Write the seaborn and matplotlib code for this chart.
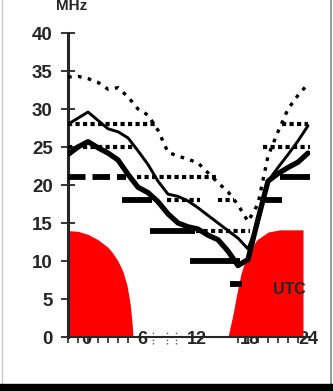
import numpy as np
import pandas as pd
import matplotlib
matplotlib.use("Agg")
import matplotlib.pyplot as plt
import seaborn as sns
from matplotlib.patches import Rectangle
from matplotlib.lines import Line2D

# ---------------- data ----------------
hours = list(range(25))
upper_decile = [34.2, 34.3, 34.0, 33.5, 32.6, 32.8, 31.6, 30.0, 29.2, 27.2, 24.3, 23.8,
                23.4, 22.9, 21.6, 20.3, 19.1, 17.4, 15.2, 17.5, 23.8, 27.0, 30.0, 31.8, 33.3]
median_upper = [28.0, 28.8, 29.6, 28.5, 27.4, 27.0, 26.2, 24.5, 22.7, 20.5, 18.8, 18.5,
                17.9, 17.0, 16.0, 15.0, 14.0, 13.0, 11.6, 15.0, 20.5, 22.3, 24.0, 25.8, 27.8]
median_lower = [24.0, 25.0, 25.7, 24.9, 24.2, 23.3, 21.4, 19.7, 19.0, 17.8, 16.2, 15.0,
                14.5, 14.2, 13.4, 12.8, 11.3, 9.4, 10.2, 15.5, 20.5, 21.5, 22.3, 23.0, 24.2]

sun_left_h = [0, 1, 2, 3, 4, 4.5, 5, 5.5, 5.9, 6.2, 6.4, 6.5]
sun_left_v = [14.0, 13.9, 13.5, 12.8, 11.8, 11.0, 10.0, 8.6, 6.8, 4.5, 2.0, 0.0]
sun_right_h = [16.0, 16.5, 16.9, 17.3, 17.7, 18.1, 18.9, 20.0, 21.2, 23.5]
sun_right_v = [0.0, 3.0, 5.8, 8.3, 10.0, 11.3, 12.8, 13.8, 14.1, 14.1]

thick_levels = [21, 18, 14, 10, 7, 18, 21]
thick_start = [0.0, 5.4, 8.2, 12.2, 16.2, 19.4, 21.2]
thick_end = [5.8, 8.4, 12.7, 17.2, 17.4, 21.4, 24.2]

dotted_levels = [28, 25, 21, 18, 18, 14, 25, 28]
dotted_start = [0.0, 0.0, 6.9, 9.9, 15.0, 12.8, 19.5, 21.4]
dotted_end = [9.0, 6.6, 14.8, 13.2, 16.6, 18.2, 24.2, 24.0]

ytick_values = [0, 5, 10, 15, 20, 25, 30, 35, 40]
xtick_labels = ["0", "6", "12", "18", "24"]
unit_label = "MHz"
time_label = "UTC"

# ---------------- style ----------------
sns.set_style("ticks")
plt.rcParams["font.family"] = ["Liberation Sans", "DejaVu Sans"]
plt.rcParams["font.weight"] = "bold"

W, H = 333, 391
fig = plt.figure(figsize=(W / 100, H / 100), dpi=100)
fig.patch.set_facecolor("white")
ax = fig.add_axes([68 / W, 54 / H, 242 / W, 304 / H])
ax.set_facecolor("white")

# red areas
ax.fill_between(sun_left_h, 0, sun_left_v, color="#ff0000", lw=0, zorder=1)
ax.fill_between(sun_right_h, 0, sun_right_v, color="#ff0000", lw=0, zorder=1)

df = pd.DataFrame({"hour": hours, "upper": upper_decile,
                   "mid": median_upper, "low": median_lower})

sns.lineplot(data=df, x="hour", y="upper", ax=ax, color="black", lw=2.4,
             zorder=3).lines[-1].set_dashes((1.1, 1.9))
sns.lineplot(data=df, x="hour", y="mid", ax=ax, color="black", lw=2.1, zorder=3)
sns.lineplot(data=df, x="hour", y="low", ax=ax, color="black", lw=3.8, zorder=3)

# step segments
for i, (lv, s, e) in enumerate(zip(thick_levels, thick_start, thick_end)):
    ls = (0, (3.0, 1.2)) if i == 0 else "solid"
    ax.hlines(lv, s, e, color="black", lw=4.2, linestyles=[ls], zorder=4)
for lv, s, e in zip(dotted_levels, dotted_start, dotted_end):
    ax.hlines(lv, s, e, color="black", lw=3.0, linestyles=[(0, (1.0, 0.8))], zorder=4)

ax.set_xlim(0, 24.2)
ax.set_ylim(0, 40)
ax.set_xlabel("")
ax.set_ylabel("")

for sp in ["top", "right"]:
    ax.spines[sp].set_visible(False)
ax.spines["left"].set_linewidth(2.2)
ax.spines["bottom"].set_linewidth(1.5)

ax.set_yticks(ytick_values)
ax.set_yticklabels([str(v) for v in ytick_values])
ax.tick_params(axis="y", direction="inout", length=10, width=1.3, pad=6,
               labelsize=13.5)

ax.set_xticks([1.8, 7.4, 12.9, 18.2, 24.0])
ax.set_xticklabels(xtick_labels)
ax.tick_params(axis="x", which="major", length=0, pad=-4.5, labelsize=13)
ax.set_xticks([h for h in hours if h <= 6 or h >= 17], minor=True)
ax.tick_params(axis="x", which="minor", direction="inout", length=9, width=1.2)

# faint dotted ticks in the night gap
for h in [8.5, 9.9, 10.8]:
    ax.plot([h, h], [-0.9, 0.9], color="#555555", lw=1.0, ls=(0, (1, 1.5)),
            clip_on=False, zorder=2)

for lab in ax.get_xticklabels() + ax.get_yticklabels():
    lab.set_fontweight("bold")

ax.text(22.1, 6.2, time_label, ha="center", va="center", fontsize=11.5,
        fontweight="bold", zorder=5)
fig.text(72 / W, 1 - 10 / H, unit_label, ha="center", va="baseline",
         fontsize=11, fontweight="bold")

# scan border
fig.patches.append(Rectangle((0, 0), 1, 7 / H, transform=fig.transFigure,
                             color="black", zorder=10))
fig.lines.append(Line2D([331 / W, 331 / W], [0, 1], transform=fig.transFigure,
                        color="#888888", lw=1.2))
fig.lines.append(Line2D([2 / W, 2 / W], [0, 1], transform=fig.transFigure,
                        color="#cccccc", lw=1.0))

fig.savefig("out.png", dpi=100, facecolor="white")
